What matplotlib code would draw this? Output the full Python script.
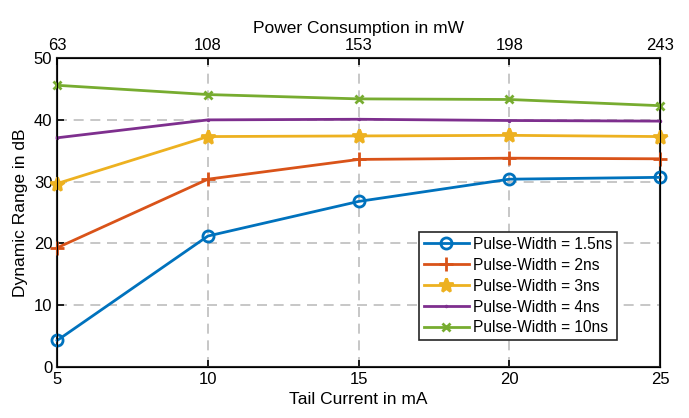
import matplotlib
matplotlib.use("Agg")
from matplotlib import pyplot as plt

plt.rcParams['font.family'] = ['Liberation Sans', 'DejaVu Sans']
plt.rcParams['font.size'] = 10

# data
current = [5, 10, 15, 20, 25]
power = [63, 108, 153, 198, 243]
pw_15 = [4.3, 21.2, 26.8, 30.4, 30.7]
pw_2 = [19.3, 30.4, 33.6, 33.8, 33.7]
pw_3 = [29.7, 37.3, 37.4, 37.5, 37.3]
pw_4 = [37.1, 40.0, 40.1, 39.9, 39.8]
pw_10 = [45.6, 44.1, 43.4, 43.3, 42.3]

fig = plt.figure(figsize=(6.89, 4.18), dpi=100)
ax = fig.add_axes([0.083, 0.122, 0.875, 0.739])

ax.plot(current, pw_15, color='#0072BD', lw=2, marker='o', ms=8, mfc='none', mew=2, label="Pulse-Width = 1.5ns", clip_on=False, zorder=5)
ax.plot(current, pw_2, color='#D95319', lw=2, marker='+', ms=10, mew=2, label="Pulse-Width = 2ns", clip_on=False, zorder=5)
ax.plot(current, pw_3, color='#EDB120', lw=2, marker='*', ms=10, mew=2, label="Pulse-Width = 3ns", clip_on=False, zorder=5)
ax.plot(current, pw_4, color='#7E2F8E', lw=2, marker='.', ms=3, label="Pulse-Width = 4ns", clip_on=False, zorder=5)
ax.plot(current, pw_10, color='#77AC30', lw=2, marker='x', ms=6, mew=2, label="Pulse-Width = 10ns", clip_on=False, zorder=5)

ax.set_xlim(5, 25)
ax.set_ylim(0, 50)
ax.set_xticks(current)
ax.set_yticks([0, 10, 20, 30, 40, 50])
ax.grid(True, linestyle=(0, (6, 4)), color='#bdbdbd', lw=1.2)
ax.tick_params(direction='in', length=5, width=1.2, labelsize=12)
for s in ax.spines.values():
    s.set_linewidth(1.5)
    s.set_color('#262626')
ax.set_xlabel("Tail Current in mA", fontsize=12.5)
ax.set_ylabel("Dynamic Range in dB", fontsize=12.5)

ax2 = ax.twiny()
ax2.set_xlim(5, 25)
ax2.set_xticks(current)
ax2.set_xticklabels([str(p) for p in power])
ax2.tick_params(direction='in', length=5, width=1.2, labelsize=12)
ax2.set_xlabel("Power Consumption in mW", fontsize=12.5)

leg = ax.legend(loc='lower right', bbox_to_anchor=(0.929, 0.087), fontsize=11.2, fancybox=False,
                edgecolor='#262626', framealpha=1, borderpad=0.3, labelspacing=0.38, handlelength=2.9,
                handletextpad=0.3, borderaxespad=0)
leg.get_frame().set_linewidth(1.2)

fig.savefig("out.png", dpi=100)
